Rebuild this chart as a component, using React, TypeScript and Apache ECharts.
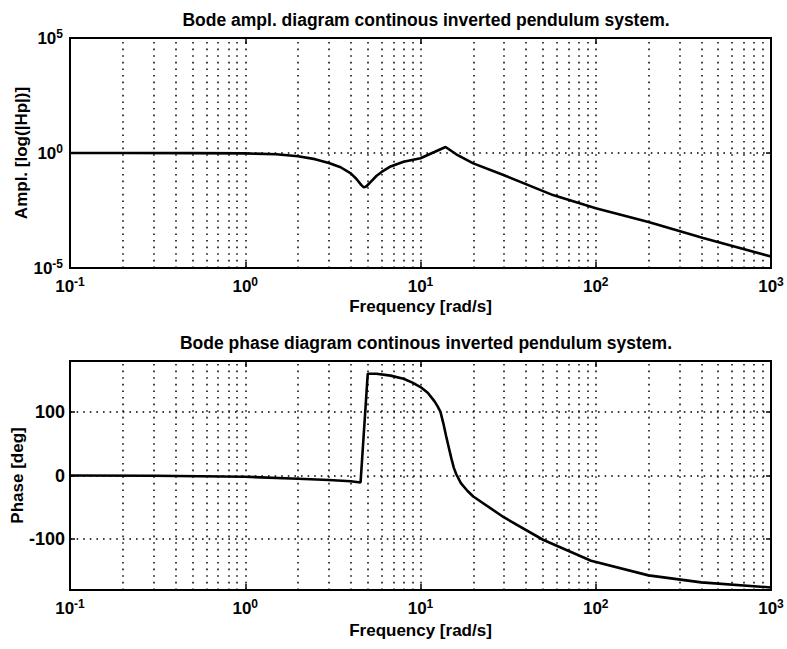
import React, { useEffect, useRef } from "react";
import * as echarts from "echarts";

// Amplitude curve (frequency in rad/s, |Hp|)
const ampFreq = [0.1, 0.2, 0.5, 1, 1.5, 2, 2.5, 3, 3.5, 4, 4.3, 4.6, 4.75, 4.9, 5.2, 5.6, 6, 6.75, 8, 10, 12, 13.9, 16, 20, 30, 57, 100, 200, 410, 1000];
const amplitude = [1, 1, 0.99, 0.96, 0.88, 0.72, 0.54, 0.37, 0.24, 0.13, 0.076, 0.04, 0.032, 0.035, 0.056, 0.1, 0.15, 0.26, 0.42, 0.59, 1.1, 1.82, 0.88, 0.355, 0.107, 0.0148, 0.004, 0.001, 0.0002, 3.16e-5];

// Phase curve (frequency in rad/s, degrees)
const phaseFreq = [0.1, 0.3, 1, 2, 3, 4, 4.55, 5.0, 5.6, 6.75, 8, 9, 10, 11, 12, 12.5, 13, 13.5, 14, 14.5, 15, 15.5, 16, 17, 18.5, 20, 30, 50, 94, 200, 400, 1000];
const phase = [0, -0.5, -2, -5, -7, -9, -11, 160, 160, 157, 152, 146, 139, 130, 117, 109, 100, 82, 62, 44, 27, 12, 2, -12, -24, -33, -66, -101, -134, -157, -168, -176];

// Grid lines
const gridFreqs = [
  0.2, 0.3, 0.4, 0.5, 0.6, 0.7, 0.8, 0.9, 1,
  2, 3, 4, 5, 6, 7, 8, 9, 10,
  20, 30, 40, 50, 60, 70, 80, 90, 100,
  200, 300, 400, 500, 600, 700, 800, 900,
];
const ampGridValues = [1];
const phaseTicks = [-100, 0, 100];
const ampLabelExponents = [-5, 0, 5];

const titles = [
  "Bode ampl. diagram continous inverted pendulum system.",
  "Bode phase diagram continous inverted pendulum system.",
];
const xName = "Frequency [rad/s]";
const yNames = ["Ampl. [log(|Hp|)]", "Phase [deg]"];

const FONT = "Liberation Sans, Arial, Helvetica, sans-serif";

const rich = {
  b: { fontSize: 17, fontWeight: "bold", fontFamily: FONT, color: "#000", lineHeight: 20 },
  s: { fontSize: 12, fontWeight: "bold", fontFamily: FONT, color: "#000", verticalAlign: "top", lineHeight: 12 },
};

const pow10Label = (v: number) => {
  const e = Math.round(Math.log10(v));
  return `{b|10}{s|${e}}`;
};

const dotted = { color: "#000", width: 1.5, type: [1.6, 5] as any };
const tickStyle = { color: "#000", width: 1.5 };
const nameStyle = { fontSize: 17, fontWeight: "bold", fontFamily: FONT, color: "#000" };
const hiddenLine = { show: false, onZero: false };

export default function App() {
  const ref = useRef<HTMLDivElement>(null);
  useEffect(() => {
    if (!ref.current) return;
    const chart = echarts.init(ref.current, null, { renderer: "svg" });
    const xAxisBase = (gridIndex: number) => ({
      type: "log",
      logBase: 10,
      gridIndex,
      position: "bottom",
      min: 0.1,
      max: 1000,
      name: xName,
      nameLocation: "middle",
      nameGap: gridIndex === 0 ? 30 : 32,
      nameMoveOverlap: false,
      nameTextStyle: nameStyle,
      axisLine: hiddenLine,
      axisTick: { inside: true, length: 6, lineStyle: tickStyle },
      axisLabel: { formatter: pow10Label, rich, margin: 8, showMinLabel: true, showMaxLabel: true },
      splitLine: { show: false },
    });
    const xAxisTop = (gridIndex: number) => ({
      type: "log",
      logBase: 10,
      gridIndex,
      position: "top",
      min: 0.1,
      max: 1000,
      axisLine: hiddenLine,
      axisTick: { inside: true, length: 6, lineStyle: tickStyle },
      axisLabel: { show: false },
      splitLine: { show: false },
    });
    const gridBase = {
      left: 70,
      right: 16,
      show: true,
      borderColor: "#000",
      borderWidth: 2,
      backgroundColor: "transparent",
      containLabel: false,
      outerBoundsMode: "none",
    };
    const option: any = {
      animation: false,
      backgroundColor: "#fff",
      title: [
        { text: titles[0], left: 421, top: 6, textAlign: "center", textStyle: { fontSize: 17.5, fontWeight: "bold", fontFamily: FONT, color: "#000" } },
        { text: titles[1], left: 421, top: 329, textAlign: "center", textStyle: { fontSize: 17.5, fontWeight: "bold", fontFamily: FONT, color: "#000" } },
      ],
      grid: [
        { ...gridBase, top: 38, height: 230 },
        { ...gridBase, top: 361, height: 229 },
      ],
      xAxis: [xAxisBase(0), xAxisBase(1), xAxisTop(0), xAxisTop(1)],
      yAxis: [
        {
          type: "log",
          logBase: 10,
          gridIndex: 0,
          position: "left",
          min: 1e-5,
          max: 1e5,
          splitNumber: 10,
          name: yNames[0],
          nameLocation: "middle",
          nameGap: 40,
          nameMoveOverlap: false,
          nameTextStyle: nameStyle,
          axisLine: hiddenLine,
          axisTick: { inside: true, length: 5, lineStyle: tickStyle },
          axisLabel: {
            margin: 7,
            rich,
            formatter: (v: number) => {
              const e = Math.round(Math.log10(v));
              return ampLabelExponents.includes(e) ? `{b|10}{s|${e}}` : "";
            },
          },
          splitLine: { show: false },
        },
        {
          type: "value",
          gridIndex: 1,
          position: "left",
          min: -180,
          max: 180,
          name: yNames[1],
          nameLocation: "middle",
          nameGap: 44,
          nameMoveOverlap: false,
          nameTextStyle: nameStyle,
          axisLine: hiddenLine,
          axisTick: { inside: true, length: 5, customValues: phaseTicks, lineStyle: tickStyle },
          axisLabel: { customValues: phaseTicks, margin: 5, fontSize: 18, fontWeight: "bold", fontFamily: FONT, color: "#000" },
          splitLine: { show: false },
        },
        {
          type: "log",
          logBase: 10,
          gridIndex: 0,
          position: "right",
          min: 1e-5,
          max: 1e5,
          splitNumber: 10,
          axisLine: hiddenLine,
          axisTick: { inside: true, length: 5, lineStyle: tickStyle },
          axisLabel: { show: false },
          splitLine: { show: false },
        },
        {
          type: "value",
          gridIndex: 1,
          position: "right",
          min: -180,
          max: 180,
          axisLine: hiddenLine,
          axisTick: { inside: true, length: 5, customValues: phaseTicks, lineStyle: tickStyle },
          axisLabel: { show: false, customValues: phaseTicks },
          splitLine: { show: false },
        },
      ],
      series: [
        {
          type: "line",
          xAxisIndex: 0,
          yAxisIndex: 0,
          data: ampFreq.map((f, i) => [f, amplitude[i]]),
          showSymbol: false,
          lineStyle: { color: "#000", width: 2.6 },
          z: 5,
          markLine: {
            silent: true,
            symbol: "none",
            label: { show: false },
            lineStyle: dotted,
            data: [
              ...gridFreqs.map((f) => ({ xAxis: f })),
              ...ampGridValues.map((v) => ({ yAxis: v })),
            ],
          },
        },
        {
          type: "line",
          xAxisIndex: 1,
          yAxisIndex: 1,
          data: phaseFreq.map((f, i) => [f, phase[i]]),
          showSymbol: false,
          lineStyle: { color: "#000", width: 2.6 },
          z: 5,
          markLine: {
            silent: true,
            symbol: "none",
            label: { show: false },
            lineStyle: dotted,
            data: [
              ...gridFreqs.map((f) => ({ xAxis: f })),
              ...phaseTicks.map((v) => ({ yAxis: v })),
            ],
          },
        },
      ],
    };
    chart.setOption(option);
    return () => chart.dispose();
  }, []);
  return (
    <div
      ref={ref}
      style={{ position: "fixed", left: 0, top: 0, width: 787, height: 649, background: "#fff" }}
    />
  );
}
